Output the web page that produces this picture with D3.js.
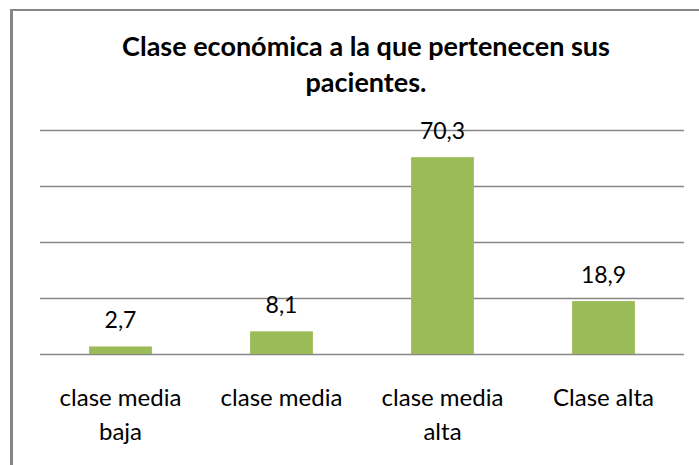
<!DOCTYPE html>
<html>
<head>
<meta charset="utf-8">
<script src="https://cdn.jsdelivr.net/npm/d3@7"></script>
<style>
  body { margin: 0; background: #fff; }
  svg { display: block; }
</style>
</head>
<body>
<div id="chart"></div>
<script>
const titleLines = ["Clase económica a la que pertenecen sus", "pacientes."];
const categories = ["clase media baja", "clase media", "clase media alta", "Clase alta"];
const values = [2.7, 8.1, 70.3, 18.9];
const yTicks = [0, 20, 40, 60, 80];

const width = 699, height = 465;
const margin = { top: 130, right: 15, bottom: 111, left: 40 };
const font = "Lato, 'Open Sans', sans-serif";

const svg = d3.select("#chart").append("svg")
  .attr("width", width)
  .attr("height", height);

// chart frame (only top and left edges show)
svg.append("line")
  .attr("x1", 10).attr("x2", width).attr("y1", 10).attr("y2", 10)
  .attr("stroke", "#868686").attr("stroke-width", 2);
svg.append("line")
  .attr("x1", 11.5).attr("x2", 11.5).attr("y1", 9).attr("y2", height)
  .attr("stroke", "#868686").attr("stroke-width", 3);

const x = d3.scaleBand()
  .domain(categories)
  .range([margin.left, width - margin.right])
  .paddingInner(0.61)
  .paddingOuter(0.305);

const y = d3.scaleLinear()
  .domain([0, 80])
  .range([height - margin.bottom, margin.top]);

// gridlines
svg.append("g")
  .selectAll("line")
  .data(yTicks)
  .join("line")
  .attr("x1", margin.left)
  .attr("x2", width - margin.right)
  .attr("y1", d => Math.round(y(d)) + 0.5)
  .attr("y2", d => Math.round(y(d)) + 0.5)
  .attr("stroke", "#868686")
  .attr("stroke-width", 1.5);

// bars
svg.append("g")
  .selectAll("rect")
  .data(values)
  .join("rect")
  .attr("x", (d, i) => x(categories[i]))
  .attr("width", x.bandwidth())
  .attr("y", d => y(d))
  .attr("height", d => y(0) - y(d))
  .attr("fill", "#9BBB59");

// value labels
svg.append("g")
  .selectAll("text")
  .data(values)
  .join("text")
  .attr("x", (d, i) => x(categories[i]) + x.bandwidth() / 2)
  .attr("y", d => y(d) - 18)
  .attr("text-anchor", "middle")
  .attr("font-family", font)
  .attr("font-size", 23)
  .attr("fill", "#000")
  .text(d => d.toFixed(1).replace(".", ","));

// category labels, wrapped
const xAxis = svg.append("g");
xAxis.selectAll("text")
  .data(categories)
  .join("text")
  .attr("x", d => x(d) + x.bandwidth() / 2)
  .attr("y", 406)
  .attr("text-anchor", "middle")
  .attr("font-family", font)
  .attr("font-size", 24)
  .attr("fill", "#000")
  .each(function (d) {
    const words = d.split(" ");
    const lines = words.length > 2 ? [words.slice(0, 2).join(" "), words.slice(2).join(" ")] : [d];
    d3.select(this).selectAll("tspan")
      .data(lines)
      .join("tspan")
      .attr("x", x(d) + x.bandwidth() / 2)
      .attr("dy", (l, i) => i === 0 ? 0 : 34)
      .text(l => l);
  });

// title
svg.append("text")
  .attr("x", 366)
  .attr("y", 56)
  .attr("text-anchor", "middle")
  .attr("font-family", font)
  .attr("font-weight", "bold")
  .attr("font-size", 27)
  .attr("fill", "#000")
  .selectAll("tspan")
  .data(titleLines)
  .join("tspan")
  .attr("x", 366)
  .attr("dy", (d, i) => i === 0 ? 0 : 36)
  .text(d => d);
</script>
</body>
</html>
